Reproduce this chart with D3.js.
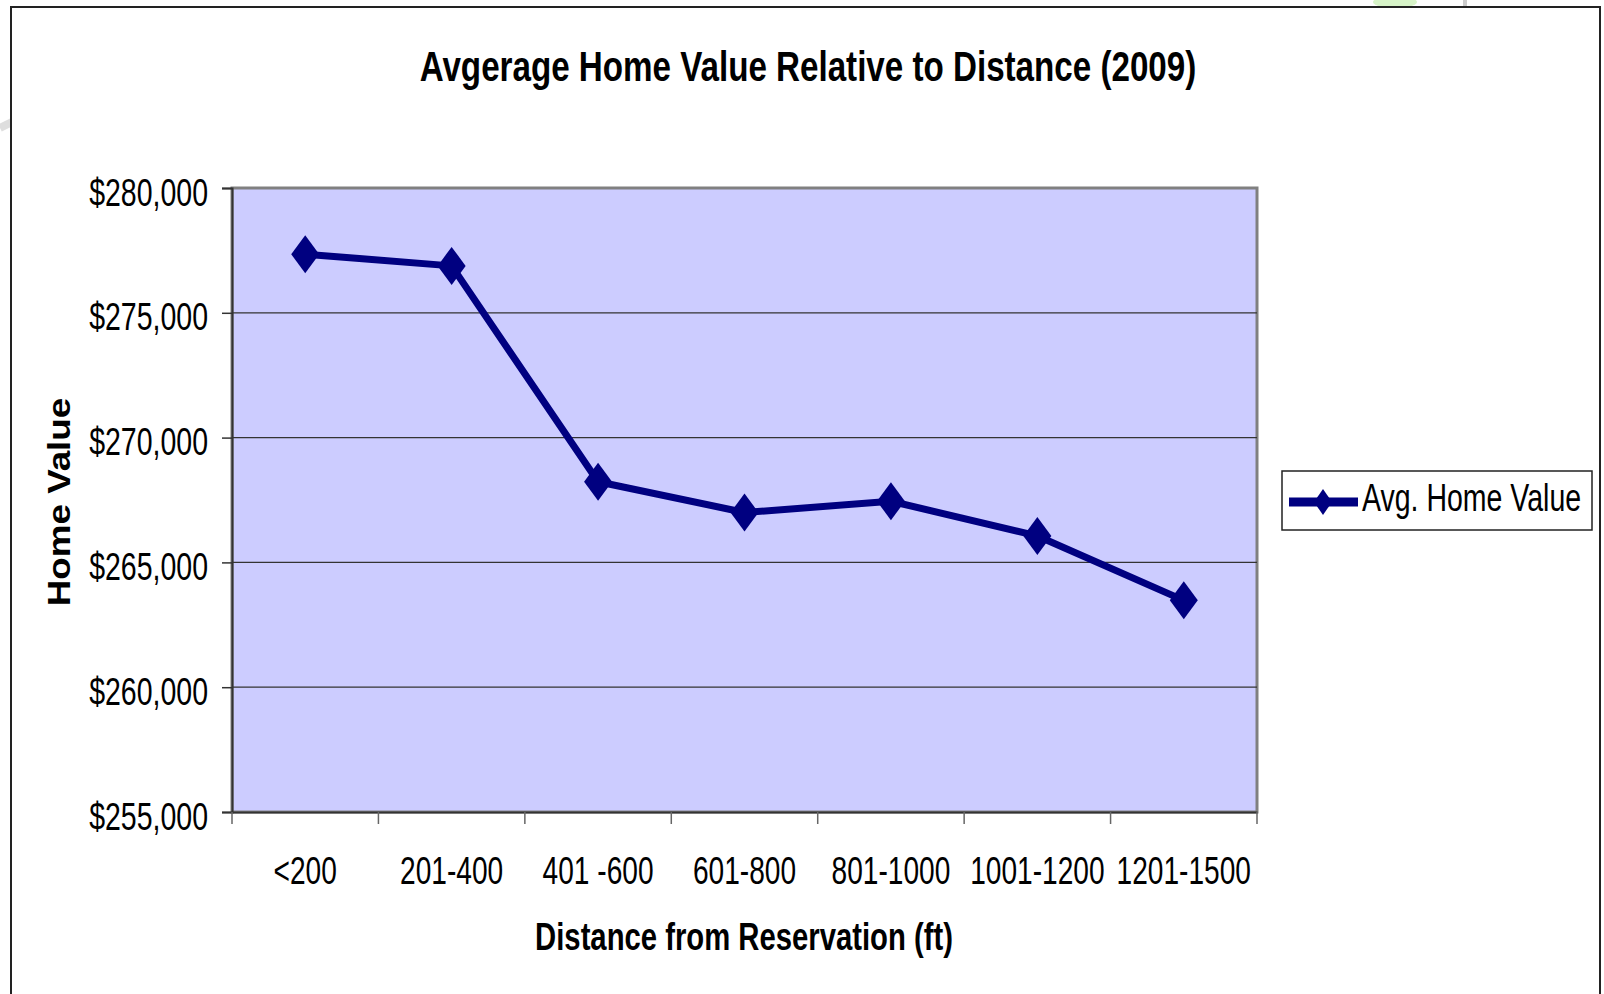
<!DOCTYPE html>
<html>
<head>
<meta charset="utf-8">
<script src="https://cdn.jsdelivr.net/npm/d3@7"></script>
<style>
  body { margin: 0; background: #fff; }
  svg { display: block; }
  text { font-family: "Liberation Sans Narrow", "Arial Narrow", "Liberation Sans", Arial, sans-serif; }
</style>
</head>
<body>
<script>
// data
const categories = ["<200", "201-400", "401 -600", "601-800", "801-1000", "1001-1200", "1201-1500"];
const homeValues = [277350, 276880, 268230, 267000, 267450, 266060, 263480];
const yTicks = [255000, 260000, 265000, 270000, 275000, 280000];
const seriesName = "Avg. Home Value";

const width = 1604, height = 994;
const plot = {left: 232, top: 188, right: 1257, bottom: 812};

// no narrow font installed, so squeeze text horizontally around its anchor
function condense(sel, f) {
    sel.each(function() {
        const t = d3.select(this);
        const x0 = +(t.attr("x") || 0);
        const prev = t.attr("transform") || "";
        t.attr("transform", `${prev} translate(${x0},0) scale(${f},1) translate(${-x0},0)`);
    });
}

const svg = d3.select("body").append("svg")
    .attr("width", width)
    .attr("height", height);

// faint slide decorations behind the chart
svg.append("path")
    .attr("d", "M0,128 Q20,118 40,108")
    .attr("stroke", "#c8c8c8").attr("stroke-width", 8).attr("fill", "none").attr("opacity", 0.6);
svg.append("ellipse")
    .attr("cx", 1395).attr("cy", 2).attr("rx", 22).attr("ry", 6)
    .attr("fill", "#c6f0b0").attr("opacity", 0.7);
svg.append("rect").attr("x", 1463).attr("y", 0).attr("width", 4).attr("height", 6).attr("fill", "#ccc");

// outer chart border
svg.append("rect")
    .attr("x", 11).attr("y", 7)
    .attr("width", 1589).attr("height", 1000)
    .attr("fill", "#fff")
    .attr("stroke", "#222").attr("stroke-width", 2);

const x = d3.scaleBand()
    .domain(categories)
    .range([plot.left, plot.right]);

const y = d3.scaleLinear()
    .domain([255000, 280000])
    .range([plot.bottom, plot.top]);

// plot background
svg.append("rect")
    .attr("x", plot.left).attr("y", plot.top)
    .attr("width", plot.right - plot.left).attr("height", plot.bottom - plot.top)
    .attr("fill", "#ccccff")
    .attr("stroke", "#808080").attr("stroke-width", 3);

// gridlines
svg.append("g")
    .selectAll("line")
    .data(yTicks.slice(1, -1))
    .join("line")
    .attr("x1", plot.left).attr("x2", plot.right)
    .attr("y1", d => y(d)).attr("y2", d => y(d))
    .attr("stroke", "#333").attr("stroke-width", 1.2);

// y axis
const yAxis = svg.append("g")
    .attr("transform", `translate(${plot.left},0)`)
    .call(d3.axisLeft(y).tickValues(yTicks).tickSize(10).tickPadding(14)
        .tickFormat(d => "$" + d3.format(",")(d)));
yAxis.select(".domain").attr("stroke", "#333").attr("stroke-width", 2);
yAxis.selectAll(".tick line").attr("stroke", "#333").attr("stroke-width", 1.5);
yAxis.selectAll(".tick text")
    .attr("font-size", 38).attr("fill", "#000")
    .attr("font-family", null).attr("dy", "0.45em")
    .call(condense, 0.75);

// x axis
const xAxis = svg.append("g")
    .attr("transform", `translate(0,${plot.bottom})`)
    .call(d3.axisBottom(x).tickSize(0).tickPadding(45));
xAxis.select(".domain").attr("stroke", "#333").attr("stroke-width", 2);
xAxis.selectAll(".tick text")
    .attr("font-size", 38).attr("fill", "#000").attr("font-family", null)
    .call(condense, 0.74);
xAxis.append("g")
    .selectAll("line")
    .data(categories.concat(["end"]))
    .join("line")
    .attr("x1", (d, i) => i < categories.length ? x(d) : plot.right)
    .attr("x2", (d, i) => i < categories.length ? x(d) : plot.right)
    .attr("y1", 0).attr("y2", 12)
    .attr("stroke", "#666").attr("stroke-width", 1.5);

// the series
const cx = d => x(d) + x.bandwidth() / 2;
const line = d3.line()
    .x((d, i) => cx(categories[i]))
    .y(d => y(d));

svg.append("path")
    .datum(homeValues)
    .attr("d", line)
    .attr("fill", "none")
    .attr("stroke", "#000080")
    .attr("stroke-width", 7)
    .attr("stroke-linejoin", "round");

const diamond = (hw, hh) => `M0,${-hh}L${hw},0L0,${hh}L${-hw},0Z`;
svg.append("g")
    .selectAll("path")
    .data(homeValues)
    .join("path")
    .attr("transform", (d, i) => `translate(${cx(categories[i])},${y(d)})`)
    .attr("d", diamond(14, 19))
    .attr("fill", "#000080");

// titles
svg.append("text")
    .attr("x", 808).attr("y", 81)
    .attr("text-anchor", "middle")
    .attr("font-size", 42).attr("font-weight", "bold")
    .text("Avgerage Home Value Relative to Distance (2009)")
    .call(condense, 0.79);

svg.append("text")
    .attr("x", 744).attr("y", 950)
    .attr("text-anchor", "middle")
    .attr("font-size", 38).attr("font-weight", "bold")
    .text("Distance from Reservation (ft)")
    .call(condense, 0.77);

svg.append("text")
    .attr("transform", "translate(70,502) rotate(-90)")
    .attr("text-anchor", "middle")
    .attr("font-size", 32).attr("font-weight", "bold")
    .style("font-family", "'Liberation Sans', Arial, sans-serif")
    .text("Home Value")
    .call(condense, 1.15);

// legend
const legend = svg.append("g").attr("transform", "translate(1282,471)");
legend.append("rect")
    .attr("width", 310).attr("height", 59)
    .attr("fill", "#fff").attr("stroke", "#222").attr("stroke-width", 1.5);
legend.append("line")
    .attr("x1", 7).attr("x2", 76).attr("y1", 31).attr("y2", 31)
    .attr("stroke", "#000080").attr("stroke-width", 9);
legend.append("path")
    .attr("transform", "translate(41,31)")
    .attr("d", diamond(9, 13))
    .attr("fill", "#000080");
legend.append("text")
    .attr("x", 80).attr("y", 40)
    .attr("font-size", 38)
    .text(seriesName)
    .call(condense, 0.75);
</script>
</body>
</html>
